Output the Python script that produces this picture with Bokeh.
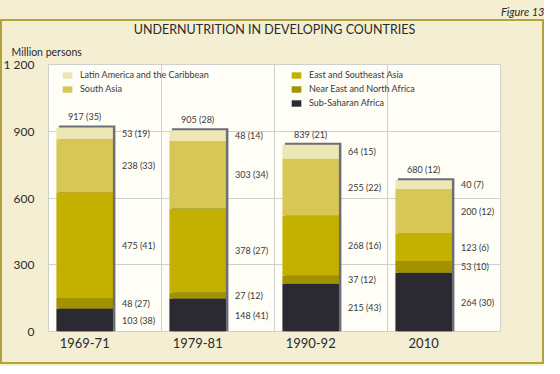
from bokeh.plotting import figure
from bokeh.models import (ColumnDataSource, Range1d, FixedTicker, Grid, Legend,
                          LegendItem, Title)
from bokeh.core.properties import value
from bokeh.embed import file_html
from bokeh.resources import INLINE

# ---- data ----
periods = ["1969-71", "1979-81", "1990-92", "2010"]
regions = ["Sub-Saharan Africa", "Near East and North Africa", "East and Southeast Asia",
           "South Asia", "Latin America and the Caribbean"]
ssa = [103, 148, 215, 264]
ssa_pct = [38, 41, 43, 30]
nena = [48, 27, 37, 53]
nena_pct = [27, 12, 12, 10]
esa = [475, 378, 268, 123]
esa_pct = [41, 27, 16, 6]
sa = [238, 303, 255, 200]
sa_pct = [33, 34, 22, 12]
lac = [53, 48, 64, 40]
lac_pct = [19, 14, 15, 7]
totals = [917, 905, 839, 680]
totals_pct = [35, 28, 21, 12]
y_ticks = [0, 300, 600, 900, 1200]
y_tick_labels = ["0", "300", "600", "900", "1 200"]

colors = ["#2b2a33", "#a39100", "#c4b000", "#d6c757", "#ede6b5"]
FONT = "Lato"
TXT = "#3a3a3a"
BEIGE = "#f4eed3"
OLIVE = "#b3a33a"

series = [ssa, nena, esa, sa, lac]
pcts = [ssa_pct, nena_pct, esa_pct, sa_pct, lac_pct]
keys = ["ssa", "nena", "esa", "sa", "lac"]

xpos = [i + 0.32 for i in range(len(periods))]
data = dict(x=xpos)
for k, s in zip(keys, series):
    data[k] = s
src = ColumnDataSource(data)

stack_top = [sum(v) for v in zip(*series)]

W, H = 544, 366
frame_css = (
    f"linear-gradient({OLIVE},{OLIVE}) 0px 19px / {W}px 2px no-repeat, "
    f"linear-gradient({OLIVE},{OLIVE}) 0px 19px / 2px {H - 22}px no-repeat, "
    f"linear-gradient({OLIVE},{OLIVE}) {W - 2}px 19px / 2px {H - 22}px no-repeat, "
    f"linear-gradient({OLIVE},{OLIVE}) 0px {H - 4}px / {W}px 2px no-repeat, "
    f"{BEIGE}"
)

p = figure(width=W, height=H, output_backend="svg", toolbar_location=None,
           x_range=Range1d(0, 4), y_range=Range1d(0, 1200),
           min_border_left=42, min_border_right=44, min_border_top=64,
           min_border_bottom=35, styles={"background": frame_css})
p.border_fill_alpha = 0
p.background_fill_color = "#fefdf6"
p.outline_line_color = "#cfcfcf"
p.outline_line_width = 1

# grids
p.xgrid.visible = False
p.ygrid.grid_line_color = "#cfcfcf"
p.ygrid.grid_line_width = 1
p.add_layout(Grid(dimension=0, ticker=FixedTicker(ticks=[1, 2, 3]),
                  grid_line_color="#cfcfcf", grid_line_width=1))

# axes
p.yaxis.ticker = FixedTicker(ticks=y_ticks)
p.yaxis.major_label_overrides = {t: l for t, l in zip(y_ticks, y_tick_labels)}
p.xaxis.ticker = FixedTicker(ticks=xpos)
p.xaxis.major_label_overrides = {x: l for x, l in zip(xpos, periods)}
for ax in (p.xaxis[0], p.yaxis[0]):
    ax.axis_line_color = None
    ax.major_tick_line_color = None
    ax.minor_tick_line_color = None
    ax.major_label_text_font = FONT
    ax.major_label_text_color = "#2a2a2a"
p.yaxis.major_label_text_font_size = "12px"
p.yaxis.major_label_standoff = 8
p.xaxis.major_label_text_font_size = "13px"
p.xaxis.major_label_standoff = 0

# shadow behind bars
p.vbar(x=[x + 0.022 for x in xpos], width=0.5, bottom=0,
       top=[t + 9 for t in stack_top], fill_color="#6e6e78", line_color=None)

# stacked bars
rends = p.vbar_stack(keys, x="x", width=0.5, source=src, color=colors, line_color=None)

# segment labels
lx, ly, lt = [], [], []
for i in range(len(periods)):
    cum = 0
    for s, pc in zip(series, pcts):
        lx.append(xpos[i] + 0.33)
        ly.append(cum + s[i] / 2)
        lt.append(f"{s[i]} ({pc[i]})")
        cum += s[i]
p.text(x=lx, y=ly, text=lt, text_font=value(FONT), text_font_size="9px",
       text_color=TXT, text_baseline="middle", text_align="left")

# totals
p.text(x=xpos, y=stack_top, text=[f"{t} ({pc})" for t, pc in zip(totals, totals_pct)],
       text_font=value(FONT), text_font_size="9px", text_color=TXT,
       text_baseline="bottom", text_align="center", y_offset=-5)

# legends
rmap = dict(zip(keys, rends))
def mk_legend(items, loc):
    lg = Legend(items=[LegendItem(label=regions[keys.index(k)], renderers=[rmap[k]]) for k in items],
                location=loc, orientation="vertical",
                glyph_width=12, glyph_height=8, label_height=13, spacing=1,
                label_standoff=7, padding=0, margin=0,
                label_text_font=FONT, label_text_font_size="9px",
                label_text_color=TXT, background_fill_alpha=0,
                border_line_color=None)
    return lg
p.add_layout(mk_legend(["lac", "sa"], (13, 236)))
p.add_layout(mk_legend(["esa", "nena", "ssa"], (242, 222)))

# texts above the frame (first added sits nearest the frame)
p.add_layout(Title(text="Million persons", align="left", offset=-37, standoff=14,
                   text_font=FONT, text_font_size="10.5px", text_font_style="normal",
                   text_color="#2a2a2a"), "above")
p.add_layout(Title(text="UNDERNUTRITION IN DEVELOPING COUNTRIES", align="center",
                   offset=1, standoff=0, text_font=FONT, text_font_size="12.5px",
                   text_font_style="normal", text_color="#2a2a2a"), "above")
p.add_layout(Title(text="Figure 13", align="right", offset=-44, standoff=4,
                   text_font=FONT, text_font_size="11px", text_font_style="italic",
                   text_color="#2a2a2a"), "above")

open("out.html", "w").write(file_html(p, INLINE))
